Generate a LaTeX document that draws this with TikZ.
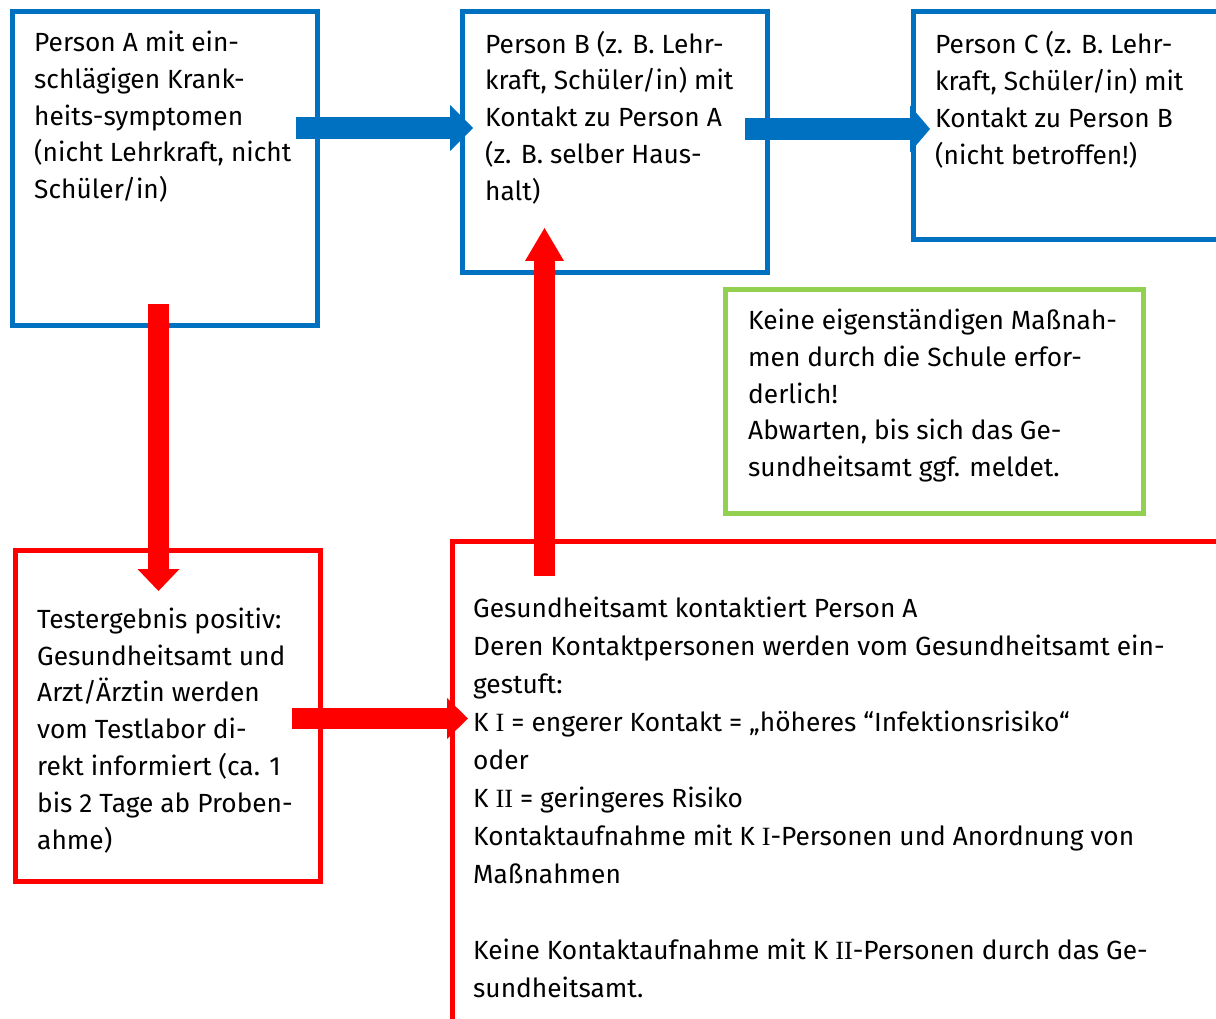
\documentclass[tikz,border=0pt]{standalone}
\usepackage{fontspec}
\setmainfont{Fira Sans}
\newfontfamily\numfont{Liberation Serif}
\usetikzlibrary{arrows.meta}
\definecolor{boxblue}{HTML}{0070C0}
\definecolor{boxred}{HTML}{FF0000}
\definecolor{boxgreen}{HTML}{92D050}
\newcommand{\rn}[1]{{\numfont #1}}
\begin{document}
\begin{tikzpicture}[x=1pt,y=-1pt,
    box/.style={draw,line width=5pt,outer sep=0pt,inner sep=0pt,anchor=north west},
    txt/.style={anchor=north west,align=left,inner sep=0pt,execute at begin node=\strut,
      font=\fontsize{26.3}{36.8}\selectfont},
    fat/.style n args={2}{line width=21.5pt,-{Triangle[length=#1,width=#2,line width=0pt]}}]
  \useasboundingbox (0,0) rectangle (1216,1019);
  \clip (0,0) rectangle (1216,1019);
  % boxes
  \node[box,boxblue,minimum width=305pt,minimum height=313.5pt] (A) at (12.5,12) {};
  \node[box,boxblue,minimum width=305pt,minimum height=260.5pt] (B) at (462.5,12) {};
  \node[box,boxblue,minimum width=330pt,minimum height=227.5pt] (C) at (913,12) {};
  \node[box,boxgreen,minimum width=418pt,minimum height=224pt] (note) at (725.5,289.5) {};
  \node[box,boxred,minimum width=305pt,minimum height=331pt] (test) at (15,550.5) {};
  \node[box,boxred,minimum width=800pt,minimum height=520pt] (amt) at (452,541.5) {};
  % texts
  \node[txt] (Atext) at ([shift={(21.5,18.7)}]A.north west)
    {Person A mit ein-\\schlägigen Krank-\\heits-symptomen\\(nicht Lehrkraft, nicht\\Schüler/in)};
  \node[txt] (Btext) at ([shift={(22.5,18.7)}]B.north west)
    {Person B (z. B. Lehr-\\kraft, Schüler/in) mit\\Kontakt zu Person A\\(z. B. selber Haus-\\halt)};
  \node[txt] (Ctext) at ([shift={(22,19.5)}]C.north west)
    {Person C (z. B. Lehr-\\kraft, Schüler/in) mit\\Kontakt zu Person B\\(nicht betroffen!)};
  \node[txt] (notetext) at ([shift={(22.5,19.2)}]note.north west)
    {Keine eigenständigen Maßnah-\\men durch die Schule erfor-\\derlich!\\Abwarten, bis sich das Ge-\\sundheitsamt ggf. meldet.};
  \node[txt] (testtext) at ([shift={(22,57)}]test.north west)
    {Testergebnis positiv:\\Gesundheitsamt und\\Arzt/Ärztin werden\\vom Testlabor di-\\rekt informiert (ca. 1\\bis 2 Tage ab Proben-\\ahme)};
  \node[txt,font=\fontsize{26.3}{38}\selectfont] (amttext) at ([shift={(21,55.5)}]amt.north west)
    {Gesundheitsamt kontaktiert Person A\\Deren Kontaktpersonen werden vom Gesundheitsamt ein-\\gestuft:\\K \rn{I} = engerer Kontakt = „höheres “Infektionsrisiko“\\oder\\K \rn{II} = geringeres Risiko\\Kontaktaufnahme mit K \rn{I}-Personen und Anordnung von\\Maßnahmen\\[38pt]Keine Kontaktaufnahme mit K \rn{II}-Personen durch das Ge-\\sundheitsamt.};
  % arrows
  \draw[fat={23pt}{46pt},boxblue] ([shift={(-21.5,116)}]A.north east) -- ([shift={(10.5,116)}]B.north west);
  \draw[fat={20pt}{47pt},boxblue] ([shift={(-22.5,117)}]B.north east) -- ([shift={(17,117)}]C.north west);
  \draw[fat={22pt}{42pt},boxred] ([shift={(146,-21.5)}]A.south west) -- ([shift={(143.5,40.5)}]test.north west);
  \draw[fat={21pt}{41pt},boxred] ([shift={(-28,168)}]test.north east) -- ([shift={(16,177)}]amt.north west);
  \draw[fat={33pt}{39pt},boxred] ([shift={(92.5,34.5)}]amt.north west) -- ([shift={(82,-44.5)}]B.south west);
\end{tikzpicture}
\end{document}
